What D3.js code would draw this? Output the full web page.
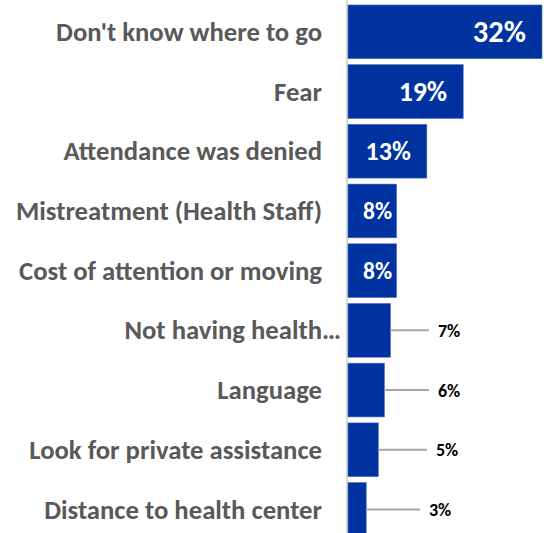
<!DOCTYPE html>
<html>
<head>
<meta charset="utf-8">
<script src="https://cdn.jsdelivr.net/npm/d3@7"></script>
<style>
  html, body { margin: 0; padding: 0; background: #ffffff; }
  svg { display: block; }
</style>
</head>
<body>
<svg id="chart" width="544" height="533"></svg>
<script>
// Reasons given for not seeking health care (share of respondents, %)
const categories = [
  "Don't know where to go",
  "Fear",
  "Attendance was denied",
  "Mistreatment (Health Staff)",
  "Cost of attention or moving",
  "Not having health…",
  "Language",
  "Look for private assistance",
  "Distance to health center"
];
const values = [32, 19, 13, 8, 8, 7, 6, 5, 3];
const valueLabels = ["32%", "19%", "13%", "8%", "8%", "7%", "6%", "5%", "3%"];

// Layout and style
const W = 544, H = 533;
const axisX = 348;
const barColor = "#0033a0";
const labelFont = "Carlito, Calibri, Lato, sans-serif";
const insideMin = 8;            // values at or above this get the label inside the bar
const outsideLabelX = [438, 438, 436, 429];   // left edge of the small outside labels
const leaderGap = 9;

const svg = d3.select("#chart");

const x = d3.scaleLinear().domain([0, 32]).range([axisX, 542]);
const y = d3.scaleBand()
  .domain(categories)
  .range([2, 539.3])
  .paddingInner(0.1005)
  .paddingOuter(0.05);

const insideSize = d3.scaleLog().domain([8, 32]).range([23.5, 30.5]);

// vertical category axis line
svg.append("line")
  .attr("x1", axisX - 1).attr("x2", axisX - 1)
  .attr("y1", 0).attr("y2", H)
  .attr("stroke", "#d9d9d9").attr("stroke-width", 2);

const rows = categories.map((c, i) => ({ c, v: values[i], lab: valueLabels[i], i }));

// bars
svg.append("g").selectAll("rect").data(rows).join("rect")
  .attr("x", x(0))
  .attr("y", d => y(d.c))
  .attr("width", d => x(d.v) - x(0))
  .attr("height", y.bandwidth())
  .attr("fill", barColor)
  .attr("stroke", "#4466c0")
  .attr("stroke-width", 0.6);

// category labels
svg.append("g").selectAll("text").data(rows).join("text")
  .attr("x", d => d.c.endsWith("…") ? axisX - 7 : axisX - 26)
  .attr("y", d => y(d.c) + y.bandwidth() / 2)
  .attr("dy", "0.34em")
  .attr("text-anchor", "end")
  .attr("font-family", labelFont)
  .attr("font-weight", "bold")
  .attr("font-size", 26.7)
  .attr("fill", "#595959")
  .text(d => d.c);

// value labels inside the larger bars
const inside = rows.filter(d => d.v >= insideMin);
svg.append("g").selectAll("text").data(inside).join("text")
  .attr("font-family", labelFont)
  .attr("font-weight", "bold")
  .attr("font-size", d => insideSize(d.v))
  .attr("fill", "#ffffff")
  .attr("text-anchor", "start")
  .attr("y", d => y(d.c) + y.bandwidth() / 2)
  .attr("dy", "0.34em")
  .text(d => d.lab)
  .each(function (d) {
    const w = this.getComputedTextLength();
    let start = x(d.v) - 16 - w;
    start = Math.max(start, x(0) + 15);
    d3.select(this).attr("x", start);
  });

// smaller bars: label outside with a leader line
const outside = rows.filter(d => d.v < insideMin);
const og = svg.append("g");
og.selectAll("line").data(outside).join("line")
  .attr("x1", d => x(d.v))
  .attr("x2", (d, k) => outsideLabelX[k] - leaderGap)
  .attr("y1", d => y(d.c) + y.bandwidth() / 2)
  .attr("y2", d => y(d.c) + y.bandwidth() / 2)
  .attr("stroke", "#a6a6a6")
  .attr("stroke-width", 2);
og.selectAll("text").data(outside).join("text")
  .attr("x", (d, k) => outsideLabelX[k])
  .attr("y", d => y(d.c) + y.bandwidth() / 2)
  .attr("dy", "0.36em")
  .attr("font-family", labelFont)
  .attr("font-weight", "bold")
  .attr("font-size", 18)
  .attr("fill", "#000000")
  .text(d => d.lab);
</script>
</body>
</html>
